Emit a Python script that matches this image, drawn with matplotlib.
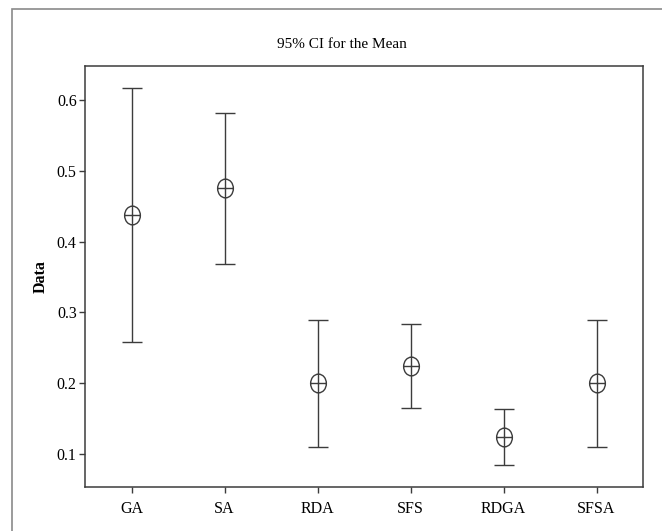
import matplotlib
matplotlib.use("Agg")
import matplotlib.pyplot as plt
from matplotlib.patches import Rectangle
from matplotlib.path import Path
import numpy as np

categories = ["GA", "SA", "RDA", "SFS", "RDGA", "SFSA"]
means = [0.437, 0.475, 0.200, 0.224, 0.124, 0.200]
upper = [0.617, 0.582, 0.289, 0.283, 0.163, 0.289]
lower = [0.258, 0.368, 0.110, 0.165, 0.085, 0.110]
yticks = [0.1, 0.2, 0.3, 0.4, 0.5, 0.6]

plt.rcParams['font.family'] = ['Liberation Serif', 'DejaVu Serif']
col = "#3c3c3c"

W, H = 662, 531
fig = plt.figure(figsize=(W / 100, H / 100), dpi=100)
ax = fig.add_axes([85 / W, 1 - 487 / H, (643 - 85) / W, (487 - 66) / H])

# outer frame (cut off on right and bottom)
fig.patches.append(Rectangle((12 / W, -0.05), 1.2, 1 - 9 / H + 0.05,
                             transform=fig.transFigure, fill=False,
                             edgecolor="#8a8a8a", linewidth=1.2))

# elliptical circle-plus marker
ell = Path.unit_circle()
ell = Path(ell.vertices * np.array([0.84, 1.0]), ell.codes)
plus = Path([(-0.84, 0), (0.84, 0), (0, -1), (0, 1)],
            [Path.MOVETO, Path.LINETO, Path.MOVETO, Path.LINETO])
oplus = Path.make_compound_path(ell, plus)

x = np.arange(len(categories))
m = np.array(means)
yerr = [m - np.array(lower), np.array(upper) - m]
ax.errorbar(x, m, yerr=yerr, fmt='none', ecolor=col, elinewidth=1.0,
            capsize=7.2, capthick=1.0)
ax.plot(x, m, linestyle='none', marker=oplus, markersize=13.5,
        markerfacecolor='white', markeredgecolor=col, markeredgewidth=1.0)

ax.set_xlim(-0.5, 5.5)
ax.set_ylim(0.0534, 0.648)
ax.set_xticks(x)
ax.set_xticklabels(categories, fontsize=11.5)
ax.set_yticks(yticks)
ax.set_yticklabels([f"{t:.1f}" for t in yticks], fontsize=11.5)
ax.tick_params(direction='out', length=4, width=1.0, color=col, pad=2)
ax.tick_params(axis='x', pad=6)
for s in ax.spines.values():
    s.set_color(col)
    s.set_linewidth(1.1)

ax.set_ylabel("Data", fontsize=11.5, fontweight='bold', labelpad=6)
fig.text(342 / W, 1 - 45 / H, "95% CI for the Mean", ha='center',
         va='center', fontsize=11)

fig.savefig("out.png", dpi=100)
